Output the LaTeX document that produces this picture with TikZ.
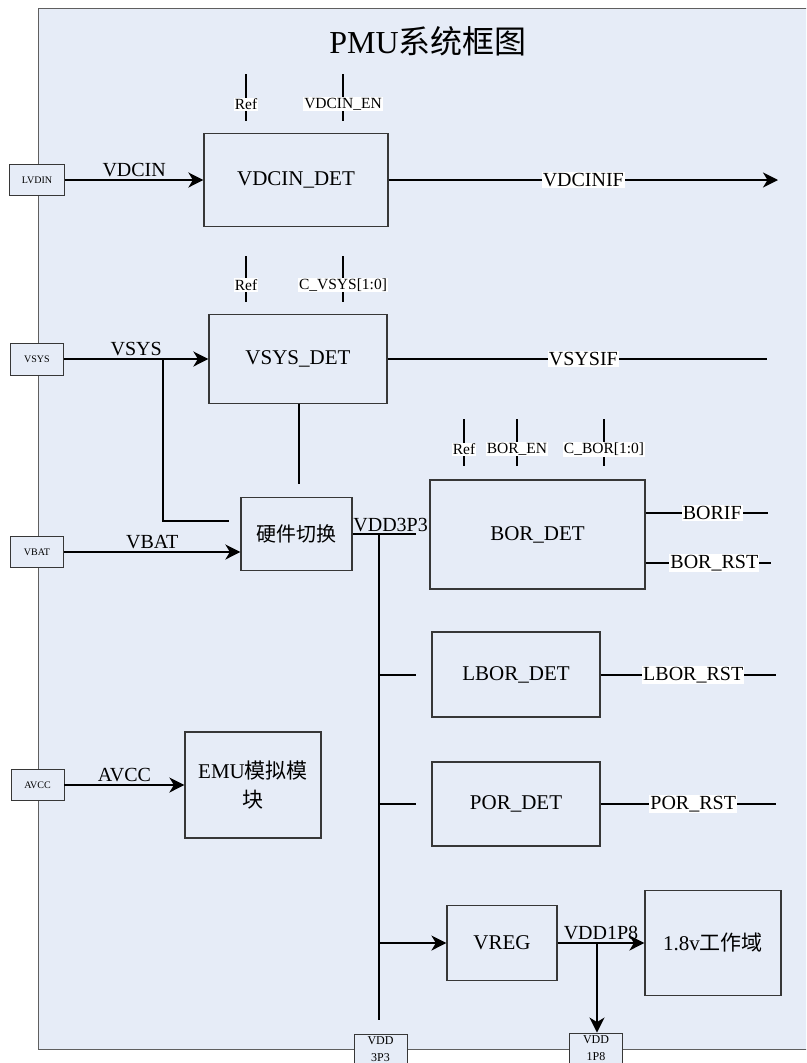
\documentclass[tikz,border=0pt]{standalone}
\usepackage{fontspec}
\setmainfont{Liberation Serif}
\newfontfamily\cjk{Noto Sans CJK SC}
\usetikzlibrary{arrows.meta}
\definecolor{bgblue}{RGB}{230,236,247}
\definecolor{boxline}{RGB}{55,55,55}
\definecolor{frameline}{RGB}{95,95,95}
\newcommand\sztitle{\fontsize{32}{36}\selectfont}
\newcommand\szbox{\fontsize{21}{29}\selectfont}
\newcommand\szsig{\fontsize{20}{24}\selectfont}
\newcommand\szsmall{\fontsize{15.5}{18}\selectfont}
\newcommand\szpin{\fontsize{10}{12}\selectfont}
\newcommand\szbpin{\fontsize{12}{17}\selectfont}
\begin{document}
\begin{tikzpicture}[x=1pt,y=-1pt,
  blk/.style={draw=boxline,line width=1.2pt,inner sep=0pt,font=\szbox,align=center},
  pinbox/.style={draw=boxline,line width=0.9pt,fill=bgblue,inner sep=0pt,font=\szpin,minimum width=55,minimum height=31},
  bpin/.style={draw=boxline,line width=0.9pt,fill=bgblue,inner sep=0pt,font=\szbpin,align=center,minimum width=53,minimum height=31},
  sig/.style={line width=2pt,black},
  arr/.style={sig,-{Stealth[length=15pt,width=15pt,inset=4.5pt]}},
  wlab/.style={fill=white,inner sep=1pt,font=\szsig},
  slab/.style={inner sep=1pt,font=\szsig},
  tlab/.style={fill=white,inner sep=1pt,font=\szsmall},
  tick/.style={line width=2pt,black}]
\useasboundingbox (0,0) rectangle (806,1063);
\clip (0,0) rectangle (806,1063);
% frame
\fill[bgblue] (38,8) rectangle (830,1049);
\draw[frameline,line width=1pt] (830,8) -- (38,8) -- (38,1049) -- (830,1049);
\node[font=\sztitle] (title) at (428,41) {PMU{\cjk 系统框图}};

% ---------- VDCIN ----------
\node[blk,minimum width=184,minimum height=93] (vdcindet) at (296,180) {VDCIN\_DET};
\node[pinbox] (lvdin) at (37,180) {LVDIN};
\draw[arr] (lvdin.east) -- node[slab,above=1pt] {VDCIN} (lvdin.east -| vdcindet.west);
\coordinate (vdcinend) at (778,180);
\draw[arr] (vdcindet.east) -- node[wlab,pos=0.5] {VDCINIF} (vdcinend);
\coordinate (t1a) at (246,74); \coordinate (t1b) at (246,121);
\coordinate (t2a) at (343,74); \coordinate (t2b) at (343,121);
\draw[tick] (t1a) -- node[tlab,pos=0.64] {Ref} (t1b);
\draw[tick] (t2a) -- node[tlab,pos=0.64] {VDCIN\_EN} (t2b);

% ---------- VSYS ----------
\node[blk,minimum width=178,minimum height=89] (vsysdet) at (298,359) {VSYS\_DET};
\node[pinbox,minimum width=53,minimum height=32] (vsys) at (37,359) {VSYS};
\draw[arr] (vsys.east) -- node[slab,above=1pt] {VSYS} (vsys.east -| vsysdet.west);
\coordinate (vsysend) at (767,359);
\draw[sig] (vsysdet.east |- vsysend) -- node[wlab,pos=0.516] {VSYSIF} (vsysend);
\coordinate (t3a) at (246,256); \coordinate (t3b) at (246,302);
\coordinate (t4a) at (343,256); \coordinate (t4b) at (343,302);
\draw[tick] (t3a) -- node[tlab,pos=0.63] {Ref} (t3b);
\draw[tick] (t4a) -- node[tlab,pos=0.63] {C\_VSYS[1:0]} (t4b);

% ---------- switch ----------
\node[blk,minimum width=111,minimum height=73,font=\cjk\fontsize{20}{24}\selectfont] (sw) at (296.5,534) {硬件切换};
\coordinate (vsbr) at (163,359);
\coordinate (vsbrend) at (229,521);
\draw[sig] (vsbr) |- (vsbrend);
\coordinate (vsdown) at (299,484);
\draw[sig] (vsysdet.south -| vsdown) -- (vsdown);
\node[pinbox,minimum width=53,minimum height=31] (vbat) at (37,552) {VBAT};
\draw[arr] (vbat.east) -- node[slab,above=1pt] {VBAT} (vbat.east -| sw.west);

% ---------- VDD3P3 bus ----------
\coordinate (vddend) at (416,534);
\draw[sig] (sw.east |- vddend) -- node[slab,above=0pt,pos=0.6] {VDD3P3} (vddend);
\coordinate (bustop) at (379,534);
\coordinate (busbot) at (379,1020);
\draw[sig] (bustop) -- (busbot);
\coordinate (b1) at (379,675); \coordinate (b1e) at (416,675);
\coordinate (b2) at (379,804); \coordinate (b2e) at (416,804);
\draw[sig] (b1) -- (b1e);
\draw[sig] (b2) -- (b2e);

% ---------- BOR ----------
\node[blk,minimum width=215,minimum height=109] (bordet) at (537.5,534.5) {BOR\_DET};
\coordinate (t5a) at (464,419); \coordinate (t5b) at (464,466);
\coordinate (t6a) at (517,419); \coordinate (t6b) at (517,466);
\coordinate (t7a) at (604,419); \coordinate (t7b) at (604,466);
\draw[tick] (t5a) -- node[tlab,pos=0.64] {Ref} (t5b);
\draw[tick] (t6a) -- node[tlab,pos=0.64] {BOR\_EN} (t6b);
\draw[tick] (t7a) -- node[tlab,pos=0.64] {C\_BOR[1:0]} (t7b);
\coordinate (borifend) at (768,513);
\coordinate (borrstend) at (771,563);
\draw[sig] (bordet.east |- borifend) -- node[wlab,pos=0.545] {BORIF} (borifend);
\draw[sig] (bordet.east |- borrstend) -- node[wlab,pos=0.548] {BOR\_RST} (borrstend);

% ---------- LBOR / POR ----------
\node[blk,minimum width=168,minimum height=85] (lbor) at (516,674.5) {LBOR\_DET};
\coordinate (lborend) at (776,675);
\draw[sig] (lbor.east |- lborend) -- node[wlab,pos=0.528] {LBOR\_RST} (lborend);
\node[blk,minimum width=168,minimum height=84] (por) at (516,804) {POR\_DET};
\coordinate (porend) at (776,804);
\draw[sig] (por.east |- porend) -- node[wlab,pos=0.528] {POR\_RST} (porend);

% ---------- VREG ----------
\node[blk,minimum width=110,minimum height=75] (vreg) at (502,943) {VREG};
\node[blk,minimum width=136,minimum height=105] (dom) at (713,943) {1.8v{\cjk 工作域}};
\coordinate (b3) at (379,943);
\draw[arr] (b3) -- (b3 -| vreg.west);
\draw[arr] (vreg.east) -- node[slab,above=1pt,pos=0.5] {VDD1P8} (vreg.east -| dom.west);
\node[bpin] (p33) at (380.5,1049.5) {VDD\\3P3};
\node[bpin] (p18) at (596,1048.5) {VDD\\1P8};
\coordinate (j18) at (597,943);
\draw[arr] (j18) -- (j18 |- p18.north);

% ---------- EMU ----------
\node[blk,minimum width=136,minimum height=106] (emu) at (253,785) {EMU{\cjk 模拟模}\\{\cjk 块}};
\node[pinbox,minimum width=53,minimum height=31] (avcc) at (37.5,785) {AVCC};
\draw[arr] (avcc.east) -- node[slab,above=1pt] {AVCC} (avcc.east -| emu.west);
\end{tikzpicture}
\end{document}
